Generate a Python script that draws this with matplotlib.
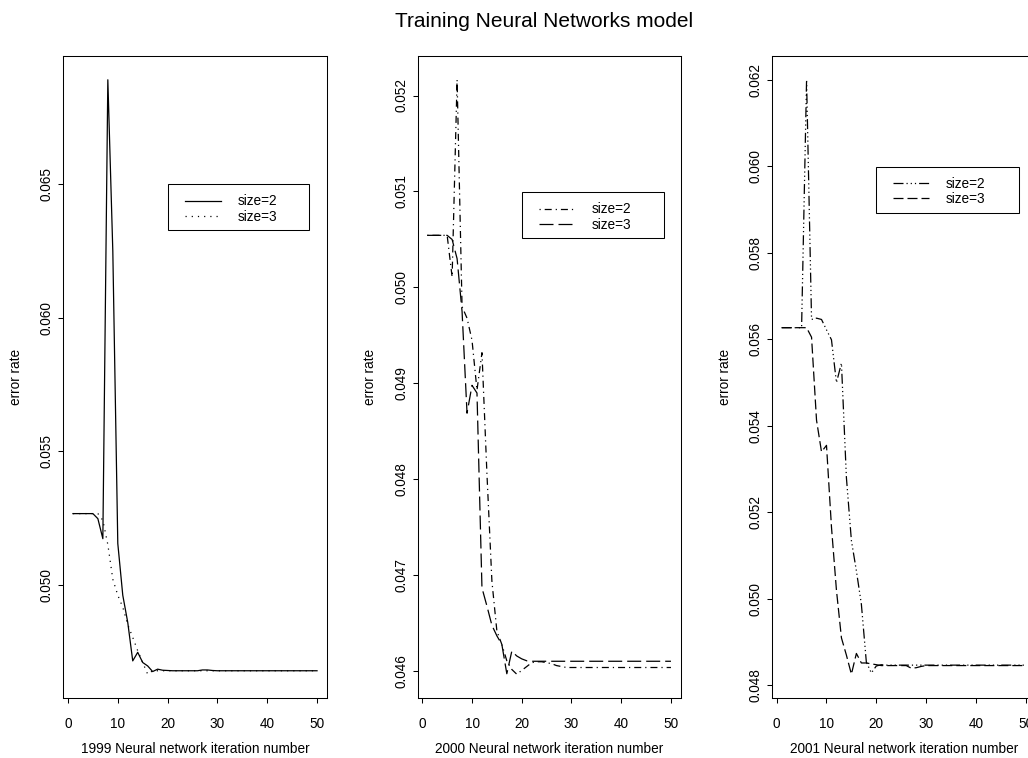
import matplotlib
matplotlib.use('Agg')
import matplotlib.pyplot as plt
from matplotlib.patches import Rectangle
from matplotlib.lines import Line2D

plt.rcParams['font.family'] = ['Liberation Sans', 'DejaVu Sans']
plt.rcParams['lines.scale_dashes'] = False

# ---------------- data ----------------
iterations = list(range(1, 51))
legend_labels = ['size=2', 'size=3']
x_ticks = [0, 10, 20, 30, 40, 50]
xlabels = ['1999 Neural network iteration number',
           '2000 Neural network iteration number',
           '2001 Neural network iteration number']
ylabel = 'error rate'
title = 'Training Neural Networks model'

err_1999_size2 = ([0.05266] * 5 +
                  [0.05247, 0.05172, 0.06892, 0.06250, 0.05154,
                   0.04960, 0.04858, 0.04714, 0.04746, 0.04708,
                   0.04695, 0.04674, 0.04683, 0.04679, 0.04678] +
                  [0.04677] * 6 + [0.04680, 0.04680, 0.04678] + [0.04677] * 21)
err_1999_size3 = ([0.05266] * 6 +
                  [0.05241, 0.05150, 0.05020, 0.04960, 0.04915,
                   0.04850, 0.04802, 0.04752, 0.04708, 0.04664, 0.04677] +
                  [0.04677] * 33)

err_2000_size2 = ([0.050543] * 5 +
                  [0.05011, 0.052164, 0.04980, 0.04968, 0.04945,
                   0.04893, 0.04932, 0.04806, 0.04694, 0.04642,
                   0.04628, 0.04611, 0.04602, 0.04597, 0.04601,
                   0.04605, 0.04609, 0.04610, 0.04610, 0.04609,
                   0.04608, 0.04606, 0.04605] + [0.04604] * 22)
err_2000_size3 = ([0.050543] * 5 +
                  [0.05050, 0.05030, 0.04975, 0.04869, 0.04898,
                   0.04890, 0.04687, 0.04668, 0.04648, 0.04637,
                   0.04628, 0.045975, 0.04621, 0.04616, 0.04613,
                   0.04611] + [0.046105] * 29)

err_2001_size2 = ([0.05627] * 5 +
                  [0.06200, 0.05646, 0.05649, 0.05646, 0.05622,
                   0.05599, 0.05500, 0.05545, 0.05280, 0.05135,
                   0.05065, 0.04988, 0.04854, 0.04829, 0.04845,
                   0.04848] + [0.04847] * 29)
err_2001_size3 = ([0.05627] * 6 +
                  [0.05605, 0.05413, 0.05340, 0.05355, 0.05166,
                   0.05020, 0.04910, 0.04870, 0.04826, 0.04874,
                   0.04852, 0.04852, 0.04850, 0.04848] +
                  [0.04846] * 6 + [0.04840, 0.04841, 0.04844] + [0.04846] * 21)

y_ticks_1999 = [0.050, 0.055, 0.060, 0.065]
y_ticks_2000 = [0.046, 0.047, 0.048, 0.049, 0.050, 0.051, 0.052]
y_ticks_2001 = [0.048, 0.050, 0.052, 0.054, 0.056, 0.058, 0.060, 0.062]

# ---------------- styles ----------------
PX = 0.72  # points per pixel at 100 dpi
def dash(*px):
    return (0, tuple(v * PX for v in px))

styles_1999 = ['-', dash(1.2, 5)]
styles_2000 = [dash(1.2, 4, 7, 4), dash(14, 5)]
styles_2001 = [dash(10, 3, 1.2, 3, 1.2, 3, 1.2, 3), dash(10, 4)]

W, H = 1028, 758
TOP, BOT = 56, 698
panels = [
    dict(l=63.2, r=326.8, s2=err_1999_size2, s3=err_1999_size3, yt=y_ticks_1999,
         st=styles_1999, box=(167.7, 184.3, 309.3, 230.3), lx=185, ly=209),
    dict(l=417.5, r=680.7, s2=err_2000_size2, s3=err_2000_size3, yt=y_ticks_2000,
         st=styles_2000, box=(521.7, 192.3, 663.7, 238.3), lx=539, ly=217),
    dict(l=771.9, r=1035.5, s2=err_2001_size2, s3=err_2001_size3, yt=y_ticks_2001,
         st=styles_2001, box=(876.0, 166.7, 1018.7, 212.7), lx=892.7, ly=191.3),
]

fig = plt.figure(figsize=(W / 100, H / 100), dpi=100)
fs = 9.8
lw = 0.9
leg_fs = 9.8
leg_px = leg_fs / PX

for i, p in enumerate(panels):
    ax = fig.add_axes([p['l'] / W, (H - BOT) / H, (p['r'] - p['l']) / W, (BOT - TOP) / H])
    ax.plot(iterations, p['s2'], color='black', lw=lw, linestyle=p['st'][0])
    ax.plot(iterations, p['s3'], color='black', lw=lw, linestyle=p['st'][1])
    allv = p['s2'] + p['s3']
    lo, hi = min(allv), max(allv)
    rng = hi - lo
    ax.set_ylim(lo - 0.04 * rng, hi + 0.04 * rng)
    ax.set_xlim(1 - 0.04 * 49, 50 + 0.04 * 49)
    ax.set_xticks(x_ticks)
    ax.set_xticklabels([str(v) for v in x_ticks], fontsize=fs)
    ax.set_yticks(p['yt'])
    ax.set_yticklabels([f'{v:.3f}' for v in p['yt']], fontsize=fs, rotation=90, va='center')
    ax.tick_params(axis='both', direction='out', length=5 * PX, width=0.75, color='black')
    ax.tick_params(axis='x', pad=14.5 * PX)
    ax.tick_params(axis='y', pad=4.5 * PX)
    for s in ax.spines.values():
        s.set_linewidth(0.75)
        s.set_color('black')
    wpx = p['r'] - p['l']
    ax.set_xlabel(xlabels[i], fontsize=fs)
    ax.xaxis.set_label_coords(0.5, -(749 - BOT) / (BOT - TOP))
    ax.xaxis.label.set_va('center')
    ax.set_ylabel(ylabel, fontsize=fs)
    ax.yaxis.set_label_coords(-47 / wpx, 0.5)
    ax.yaxis.label.set_va('center')

    handles = [Line2D([], [], color='black', lw=lw, linestyle=p['st'][0]),
               Line2D([], [], color='black', lw=lw, linestyle=p['st'][1])]
    fig.legend(handles, legend_labels, loc='center left',
               bbox_to_anchor=(p['lx'] / W, 1 - p['ly'] / H),
               bbox_transform=fig.transFigure, frameon=False, borderpad=0,
               borderaxespad=0, handlelength=36 / leg_px,
               handletextpad=17 / leg_px, labelspacing=0.08, fontsize=leg_fs)
    x0, y0, x1, y1 = p['box']
    fig.add_artist(Rectangle((x0 / W, 1 - y1 / H), (x1 - x0) / W, (y1 - y0) / H,
                             transform=fig.transFigure, fill=False,
                             edgecolor='black', lw=0.75))

fig.text(544.5 / W, 1 - 21.7 / H, title, ha='center', va='center', fontsize=15)

fig.savefig('out.png', dpi=100)
